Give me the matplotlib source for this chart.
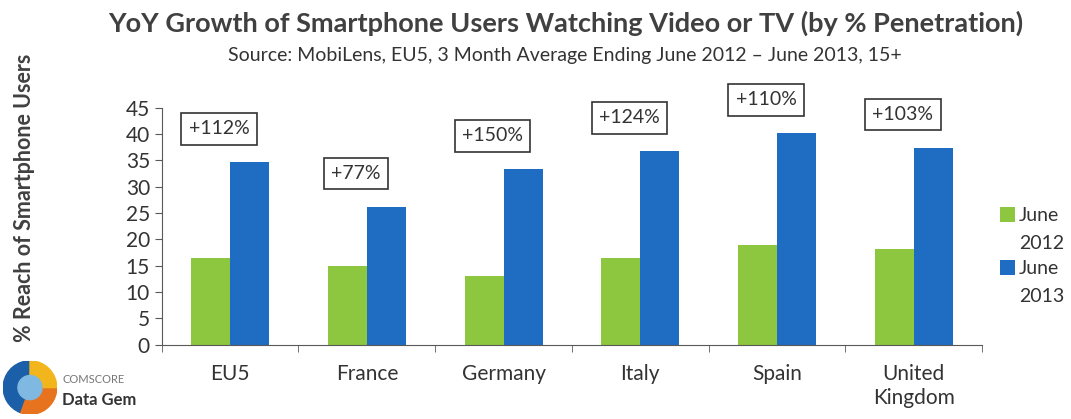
import numpy as np
import matplotlib.pyplot as plt
from matplotlib.patches import Wedge

plt.rcParams['font.family'] = ['Lato', 'DejaVu Sans']

countries = ['EU5', 'France', 'Germany', 'Italy', 'Spain', 'United\nKingdom']
june_2012 = [16.5, 15.0, 13.1, 16.5, 19.0, 18.2]
june_2013 = [34.7, 26.2, 33.4, 36.8, 40.2, 37.4]
growth = ['+112%', '+77%', '+150%', '+124%', '+110%', '+103%']

green = '#8DC63F'
blue = '#1F6DC2'
grey = '#595959'

fig = plt.figure(figsize=(10.71, 4.19), dpi=100)
ax = fig.add_axes([0.151, 0.177, 0.766, 0.566])

x = np.arange(len(countries))
w = 0.285
ax.bar(x - w / 2, june_2012, w, color=green, label='June\n2012')
ax.bar(x + w / 2, june_2013, w, color=blue, label='June\n2013')

# growth boxes sit a bit above the 2013 bar
for i, (v, g) in enumerate(zip(june_2013, growth)):
    ax.text(i - 0.08, v + 6.3, g, ha='center', va='center', fontsize=14,
            color='#333333', clip_on=False,
            bbox=dict(boxstyle='square,pad=0.38', fc='white', ec='#333333', lw=1.2))

ax.set_xlim(-0.5, len(countries) - 0.5)
ax.set_ylim(0, 45)
ax.set_yticks(np.arange(0, 46, 5))
ax.set_xticks(x)
ax.set_xticklabels(countries, fontsize=15, color='#333333', linespacing=1.25)
ax.set_xticks(np.arange(-0.5, len(countries)), minor=True)
ax.tick_params(axis='x', which='major', length=0, pad=14)
ax.tick_params(axis='x', which='minor', length=5, color=grey)
ax.tick_params(axis='y', length=5, color=grey, labelsize=15, labelcolor='#333333')
for s in ['top', 'right']:
    ax.spines[s].set_visible(False)
ax.spines['left'].set_color(grey)
ax.spines['bottom'].set_color(grey)

ax.set_ylabel('% Reach of Smartphone Users', fontsize=15.5, fontweight='bold',
              color='#404040')
ax.yaxis.set_label_coords(-0.155, 0.62)

leg = ax.legend(loc='center left', bbox_to_anchor=(1.0, 0.375), frameon=False,
                fontsize=14, handlelength=0.8, handleheight=0.8, handletextpad=0.2,
                labelspacing=0.45, labelcolor='#333333')
for t in leg.get_texts():
    t.set_linespacing(1.75)
# put the swatch next to the first line ("June")
for h in leg.legend_handles:
    h.set_y(h.get_y() + 11)

fig.text(0.528, 0.945, 'YoY Growth of Smartphone Users Watching Video or TV (by % Penetration)',
         ha='center', va='center', fontsize=19.5, fontweight='bold', color='#404040')
fig.text(0.527, 0.868, 'Source: MobiLens, EU5, 3 Month Average Ending June 2012 \u2013 June 2013, 15+',
         ha='center', va='center', fontsize=14, color='#333333')

# comScore logo
lax = fig.add_axes([0.003, 0.01, 0.05, 0.13])
lax.set_aspect('equal')
lax.axis('off')
lax.set_xlim(-1, 1)
lax.set_ylim(-1, 1)
lax.add_patch(Wedge((0, 0), 1, 90, 250, color='#1A5FA8'))
lax.add_patch(Wedge((0, 0), 1, 250, 360, color='#E8731E'))
lax.add_patch(Wedge((0, 0), 1, 0, 90, color='#F2B61C'))
lax.add_patch(Wedge((0, 0), 0.45, 0, 360, color='#7FB8E0'))
fig.text(0.058, 0.095, 'COMSCORE', fontsize=8, color='#777777', va='center')
fig.text(0.058, 0.045, 'Data Gem', fontsize=12, fontweight='bold', color='#333333', va='center')

fig.savefig('out.png', dpi=100)
